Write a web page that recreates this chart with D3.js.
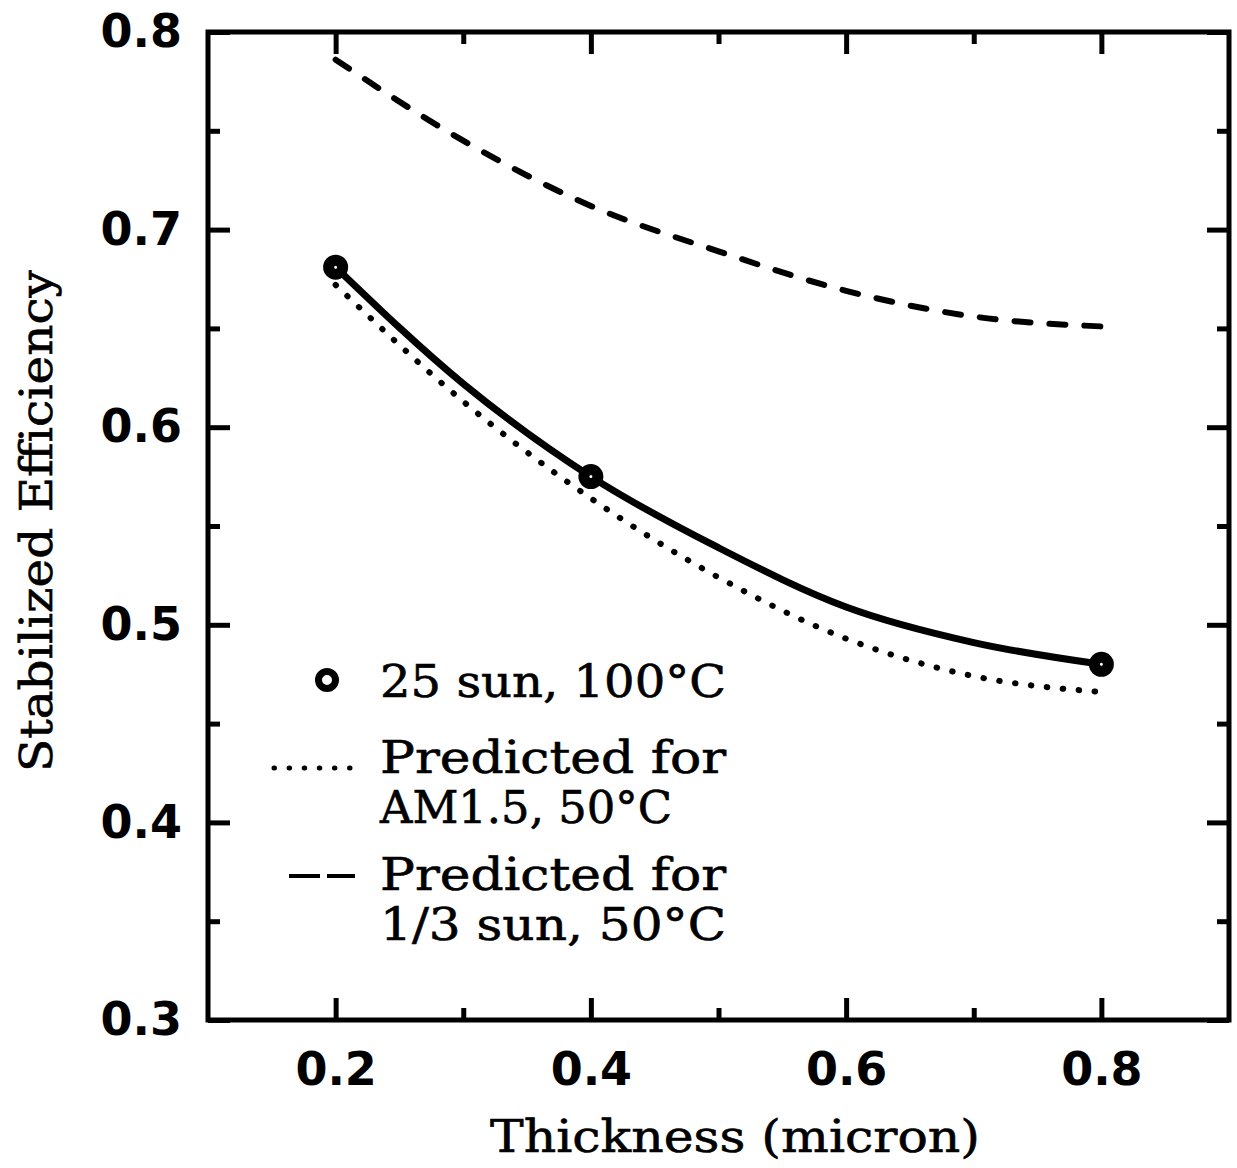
<!DOCTYPE html>
<html>
<head>
<meta charset="utf-8">
<script src="https://cdn.jsdelivr.net/npm/d3@7"></script>
<style>
  body { margin: 0; background: #fff; }
  .tick text { font-family: "DejaVu Sans", sans-serif; font-weight: bold; font-size: 46px; fill: #000; }
  .tick line { stroke: #000; stroke-width: 5; }
  .txt { font-family: "DejaVu Serif", serif; font-size: 44px; fill: #000; stroke: #000; stroke-width: 0.6; }
</style>
</head>
<body>
<svg id="chart" width="1237" height="1168"></svg>
<script>
// thickness (micron) sampled along the curves
var thickness = [0.2, 0.3, 0.4, 0.5, 0.6, 0.7, 0.8];
// measured points, 25 sun 100C
var measX = [0.2, 0.4, 0.8];
var measY = [0.681, 0.575, 0.480];
// fitted curve through the measured points
var fitY = [0.681, 0.622, 0.575, 0.539, 0.509, 0.491, 0.480];
// predicted for AM1.5, 50C (dotted)
var am15Y = [0.672, 0.613, 0.564, 0.524, 0.493, 0.474, 0.466];
// predicted for 1/3 sun, 50C (dashed)
var thirdY = [0.786, 0.745, 0.712, 0.689, 0.669, 0.656, 0.651];

var xMajor = [0.2, 0.4, 0.6, 0.8], xMinor = [0.3, 0.5, 0.7];
var yMajor = [0.3, 0.4, 0.5, 0.6, 0.7, 0.8], yMinor = [0.35, 0.45, 0.55, 0.65, 0.75];

var svg = d3.select("#chart");

var x = d3.scaleLinear().domain([0.1, 0.9]).range([208, 1229]);
var y = d3.scaleLinear().domain([0.3, 0.8]).range([1020, 32]);

var fmt = d3.format(".1f");

// axes, ticks pointing inward
function axisG(axis, tx, ty) {
    var g = svg.append("g").attr("transform", "translate(" + tx + "," + ty + ")").call(axis);
    g.select(".domain").remove();
    return g;
}
axisG(d3.axisBottom(x).tickValues(xMajor).tickSize(-22).tickPadding(32).tickFormat(fmt), 0, 1020);
axisG(d3.axisBottom(x).tickValues(xMinor).tickSize(-12).tickFormat(""), 0, 1020);
axisG(d3.axisTop(x).tickValues(xMajor).tickSize(-22).tickFormat(""), 0, 32);
axisG(d3.axisTop(x).tickValues(xMinor).tickSize(-12).tickFormat(""), 0, 32);
axisG(d3.axisLeft(y).tickValues(yMajor).tickSize(-22).tickPadding(26).tickFormat(fmt), 208, 0);
axisG(d3.axisLeft(y).tickValues(yMinor).tickSize(-12).tickFormat(""), 208, 0);
axisG(d3.axisRight(y).tickValues(yMajor).tickSize(-22).tickFormat(""), 1229, 0);
axisG(d3.axisRight(y).tickValues(yMinor).tickSize(-12).tickFormat(""), 1229, 0);

svg.append("rect")
    .attr("x", 208).attr("y", 32)
    .attr("width", 1229 - 208).attr("height", 1020 - 32)
    .attr("fill", "none").attr("stroke", "#000").attr("stroke-width", 5);

// curves
var line = d3.line()
    .x(function (d) { return x(d[0]); })
    .y(function (d) { return y(d[1]); })
    .curve(d3.curveMonotoneX);

svg.append("path")
    .datum(d3.zip(thickness, thirdY))
    .attr("d", line)
    .attr("fill", "none").attr("stroke", "#000")
    .attr("stroke-width", 6).attr("stroke-linecap", "round")
    .attr("stroke-dasharray", "16,19");

svg.append("path")
    .datum(d3.zip(thickness, am15Y))
    .attr("d", line)
    .attr("fill", "none").attr("stroke", "#000")
    .attr("stroke-width", 6).attr("stroke-linecap", "round")
    .attr("stroke-dasharray", "0.5,15.5");

svg.append("path")
    .datum(d3.zip(thickness, fitY))
    .attr("d", line)
    .attr("fill", "none").attr("stroke", "#000")
    .attr("stroke-width", 7);

svg.selectAll(".pt")
    .data(d3.zip(measX, measY)).enter()
    .append("circle")
    .attr("class", "pt")
    .attr("cx", function (d) { return x(d[0]); })
    .attr("cy", function (d) { return y(d[1]); })
    .attr("r", 7)
    .attr("fill", "#fff").attr("stroke", "#000").attr("stroke-width", 11);

// legend
var legend = svg.append("g");
legend.append("circle")
    .attr("cx", 327).attr("cy", 680).attr("r", 8.5)
    .attr("fill", "#fff").attr("stroke", "#000").attr("stroke-width", 7);
legend.append("line")
    .attr("x1", 274).attr("x2", 350).attr("y1", 768).attr("y2", 768)
    .attr("stroke", "#000").attr("stroke-width", 5).attr("stroke-linecap", "round")
    .attr("stroke-dasharray", "0.5,14.6");
legend.append("line")
    .attr("x1", 289).attr("x2", 355).attr("y1", 876).attr("y2", 876)
    .attr("stroke", "#000").attr("stroke-width", 4)
    .attr("stroke-dasharray", "31,7");

var legendLines = [
    ["25 sun, 100°C", 697],
    ["Predicted for", 773],
    ["AM1.5, 50°C", 823],
    ["Predicted for", 890],
    ["1/3 sun, 50°C", 940]
];
legend.selectAll("text")
    .data(legendLines).enter()
    .append("text")
    .attr("class", "txt")
    .attr("x", 380)
    .attr("y", function (d) { return d[1]; })
    .attr("textLength", function (d) { return d[0].length * 27 - 5; })
    .attr("lengthAdjust", "spacingAndGlyphs")
    .text(function (d) { return d[0]; });

// axis titles
svg.append("text")
    .attr("class", "txt")
    .attr("x", 490).attr("y", 1152)
    .attr("textLength", 490)
    .attr("lengthAdjust", "spacingAndGlyphs")
    .text("Thickness (micron)");

svg.append("text")
    .attr("class", "txt")
    .attr("transform", "translate(52,772) rotate(-90)")
    .attr("textLength", 502)
    .attr("lengthAdjust", "spacingAndGlyphs")
    .text("Stabilized Efficiency");
</script>
</body>
</html>
